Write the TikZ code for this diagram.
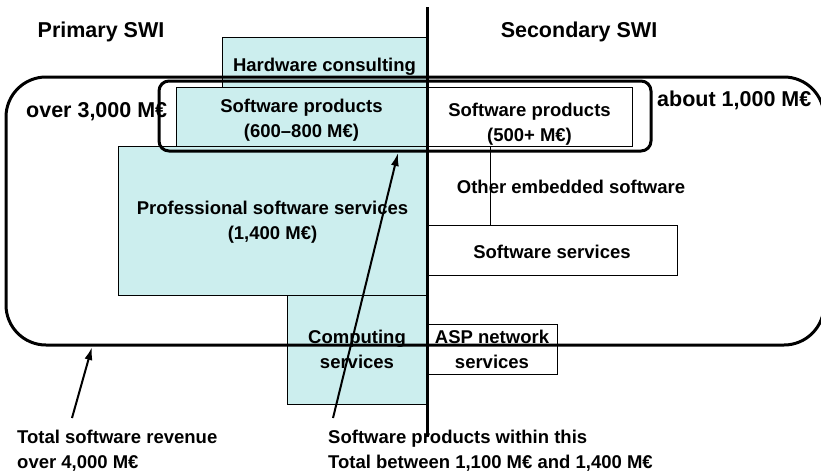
\documentclass[tikz,border=0pt]{standalone}
\usepackage{fontspec}
\setmainfont{Liberation Sans}
\usepackage{xcolor}
\usetikzlibrary{arrows.meta}
\definecolor{swicyan}{RGB}{204,238,238}
\newcommand{\swilarge}{\fontsize{21.5}{26}\selectfont\bfseries}
\newcommand{\swismall}{\fontsize{18.5}{25}\selectfont\bfseries}
\newcommand{\swidrop}[1]{\rule{0pt}{#1}}
\tikzset{
	swibox/.style={draw, line width=0.8pt, inner sep=0pt, align=center, font=\swismall},
	cyanbox/.style={swibox, fill=swicyan},
	whitebox/.style={swibox, fill=white},
	frame/.style={draw, line width=3pt, inner sep=0pt},
	pointer/.style={line width=2pt, -{Latex[length=13pt,width=8pt]}}
}

\begin{document}
\begin{tikzpicture}[x=1pt,y=-1pt]
			\useasboundingbox (0,0) rectangle (821,471);
			\clip (0,0) rectangle (821,471);
			\node[cyanbox,minimum width=205,minimum height=50] (hw) at (324.5,62) {\swidrop{22.5pt}Hardware consulting};
			\node[cyanbox,minimum width=251,minimum height=59] (prod1) at (301.5,116.5) {\swidrop{20.5pt}Software products\\(600–800 M€)};
			\node[cyanbox,minimum width=309,minimum height=149] (pss) at (272.5,220.5) {\swidrop{17.5pt}Professional software services\\(1,400 M€)};
			\node[cyanbox,minimum width=140,minimum height=109] (comp) at (357,349.5) {Computing\\services};
			\node[whitebox,minimum width=205,minimum height=59] (prod2) at (529.5,116.5) {};
			\node[font=\swismall,align=center,inner sep=0pt] (prod2txt) at (529.5,124.5) {Software products\\(500+ M€)};
			\node[whitebox,minimum width=250,minimum height=50] (serv) at (552,250) {\swidrop{17.5pt}Software services};
			\node[whitebox,minimum width=130,minimum height=50] (asp) at (492,349) {ASP network\\services};
			\node[font=\swismall,anchor=base,inner sep=0pt] (emb) at (571,193) {Other embedded software};
			\coordinate (embtop) at (490,146);
			\draw[line width=0.8pt] (embtop) -- (embtop |- serv.north);
			\coordinate (axtop) at (427,7);
			\coordinate (axbot) at (427,437);
			\draw[line width=3pt] (axtop) -- (axbot);
			\node[frame,rounded corners=40pt,minimum width=818,minimum height=268] (total) at (415,211) {};
			\node[frame,rounded corners=10pt,minimum width=492,minimum height=70] (prodall) at (405,116) {};
			\node[font=\swilarge,anchor=base,inner sep=0pt] (prim) at (101,37) {Primary SWI};
			\node[font=\swilarge,anchor=base,inner sep=0pt] (sec) at (579,37) {Secondary SWI};
			\node[font=\swilarge,anchor=base west,inner sep=0pt] (over) at (26,117) {over 3,000 M€};
			\node[font=\swilarge,anchor=base west,inner sep=0pt] (about) at (657,106) {about 1,000 M€};
			\node[font=\swismall,align=left,anchor=north west,inner sep=0pt] (totnote) at (17,429.5) {Total software revenue\\over 4,000 M€};
			\node[font=\swismall,align=left,anchor=north west,inner sep=0pt] (prodnote) at (328,429.5) {Software products within this\\Total between 1,100 M€ and 1,400 M€};
			\coordinate (tail1) at (72,418);
			\coordinate (tip1) at (92,347);
			\coordinate (tail2) at (333,418);
			\coordinate (tip2) at (398,153);
			\draw[pointer] (tail1) -- (tip1);
			\draw[pointer] (tail2) -- (tip2);
		\end{tikzpicture}
\end{document}
